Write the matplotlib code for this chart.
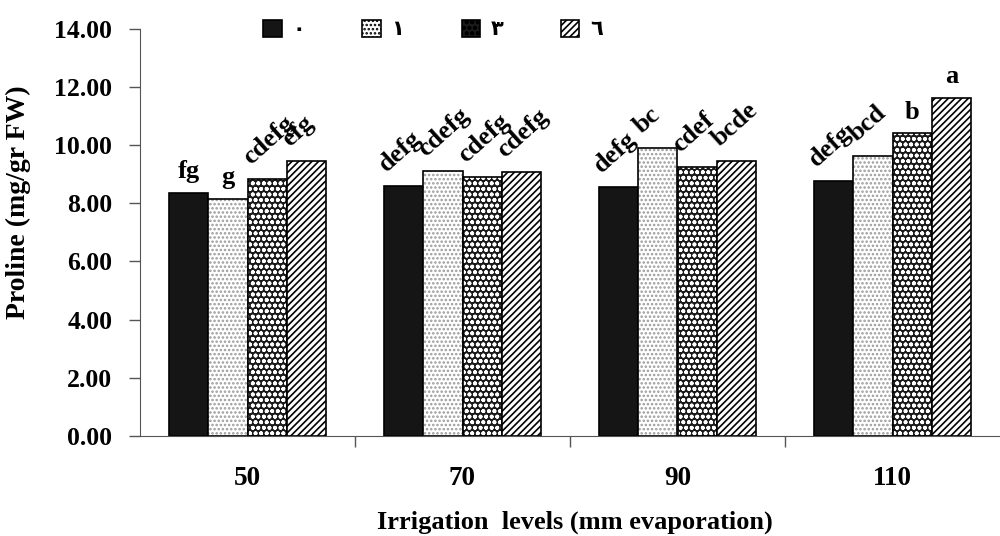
import matplotlib.pyplot as plt
import matplotlib.patches as mpatches
import numpy as np

# irrigation levels and treatment series
levels = ["50", "70", "90", "110"]
series_names = ["٠", "١", "٣", "٦"]
s0 = [8.37, 8.60, 8.56, 8.77]
s1 = [8.15, 9.12, 9.90, 9.63]
s3 = [8.84, 8.90, 9.26, 10.41]
s6 = [9.46, 9.06, 9.47, 11.62]
letters = [
    ["fg", "defg", "defg", "defg"],
    ["g", "cdefg", "bc", "bcd"],
    ["cdefg", "cdefg", "cdef", "b"],
    ["efg", "cdefg", "bcde", "a"],
]
rotated = [
    [False, True, True, True],
    [False, True, True, True],
    [True, True, True, False],
    [True, True, True, False],
]

plt.rcParams["font.family"] = ["Liberation Serif", "DejaVu Serif", "DejaVu Sans"]
plt.rcParams["font.weight"] = "bold"
plt.rcParams["hatch.linewidth"] = 1.2

styles = [
    dict(facecolor="#151515", hatch=None, hcolor=None),
    dict(facecolor="white", hatch="....", hcolor="#9a9a9a"),
    dict(facecolor="#1a1a1a", hatch="ooo", hcolor="white"),
    dict(facecolor="white", hatch="/////", hcolor="black"),
]

fig = plt.figure(figsize=(10, 5.36), dpi=100)
ax = fig.add_axes([0.14, 0.187, 0.86, 0.759])

x = np.arange(len(levels))
w = 0.183
data = [s0, s1, s3, s6]
for i, vals in enumerate(data):
    st = styles[i]
    pos = x + (i - 1.5) * w
    if st["hatch"]:
        ax.bar(pos, vals, w, color=st["facecolor"], edgecolor=st["hcolor"],
               hatch=st["hatch"], linewidth=0)
    else:
        ax.bar(pos, vals, w, color=st["facecolor"], linewidth=0)
    ax.bar(pos, vals, w, fill=False, edgecolor="black", linewidth=1.2)
    for j, v in enumerate(vals):
        if rotated[i][j]:
            ax.annotate(letters[i][j], (pos[j], v), xytext=(-12, 10),
                        textcoords="offset points", rotation=42,
                        rotation_mode="anchor", ha="left", va="baseline",
                        fontsize=19, fontweight="bold")
        else:
            ax.annotate(letters[i][j], (pos[j], v), xytext=(0, 7),
                        textcoords="offset points", ha="center", va="bottom",
                        fontsize=19, fontweight="bold")

ax.set_xlim(-0.5, 3.5)
ax.set_ylim(0, 14)
ax.set_yticks(np.arange(0, 15, 2))
ax.set_yticklabels([f"{t:.2f}" for t in np.arange(0, 15, 2)], fontsize=18.5)
ax.set_xticks(x)
ax.set_xticklabels(levels, fontsize=19.5)
ax.set_xticks(x[:-1] + 0.5, minor=True)
ax.tick_params(axis="x", which="major", length=0, pad=22)
ax.tick_params(axis="x", which="minor", length=8, direction="out",
               width=1, color="#555555")
ax.tick_params(axis="y", length=8, direction="out", width=1, pad=12,
               color="#555555")
for s in ["top", "right"]:
    ax.spines[s].set_visible(False)
ax.spines["left"].set_color("#555555")
ax.spines["bottom"].set_color("#555555")
ax.set_ylabel("Proline (mg/gr FW)", fontsize=20, fontweight="bold")
ax.yaxis.set_label_coords(-0.127, 0.575)
ax.set_xlabel("Irrigation  levels (mm evaporation)", fontsize=19,
              fontweight="bold", va="top")
ax.xaxis.set_label_coords(0.506, -0.185)

handles = []
for st in styles:
    if st["hatch"]:
        handles.append(mpatches.Patch(facecolor=st["facecolor"], edgecolor="black",
                                      hatch=st["hatch"], linewidth=1.2))
    else:
        handles.append(mpatches.Patch(facecolor=st["facecolor"], edgecolor="black",
                                      linewidth=1.2))
leg = fig.legend(handles, series_names, ncol=4, loc="center",
                 bbox_to_anchor=(0.433, 0.945), frameon=False, fontsize=15,
                 handlelength=0.9, handleheight=0.9, columnspacing=2.75,
                 handletextpad=0.5)
for t in leg.get_texts():
    t.set_family(["DejaVu Sans"])
    t.set_fontweight("bold")

fig.savefig("out.png", dpi=100)
